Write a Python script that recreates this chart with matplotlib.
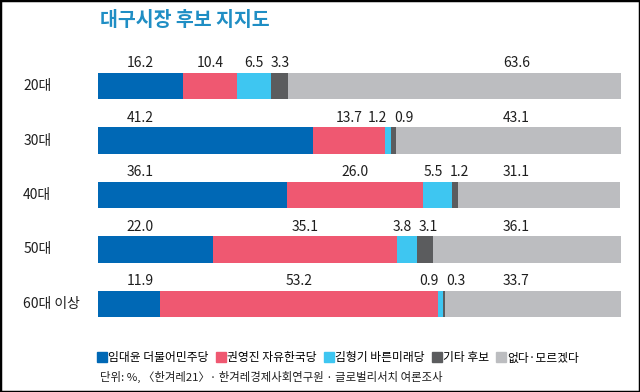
import matplotlib
matplotlib.use("Agg")
import matplotlib.pyplot as plt
from matplotlib.lines import Line2D
from matplotlib.patches import Rectangle

plt.rcParams['font.family'] = ['Noto Sans CJK KR', 'DejaVu Sans']

# data (%)
ages = ['20대', '30대', '40대', '50대', '60대 이상']
minju = [16.2, 41.2, 36.1, 22.0, 11.9]      # 임대윤 더불어민주당
hanguk = [10.4, 13.7, 26.0, 35.1, 53.2]     # 권영진 자유한국당
barun = [6.5, 1.2, 5.5, 3.8, 0.9]           # 김형기 바른미래당
etc = [3.3, 0.9, 1.2, 3.1, 0.3]             # 기타 후보
dunno = [63.6, 43.1, 31.1, 36.1, 33.7]      # 없다·모르겠다

series = [minju, hanguk, barun, etc, dunno]
names = ['임대윤 더불어민주당', '권영진 자유한국당', '김형기 바른미래당', '기타 후보', '없다·모르겠다']
colors = ['#0068b5', '#ef5871', '#3ec6f1', '#5b5c5e', '#bcbdc0']

title = '대구시장 후보 지지도'
source = '단위: %, 〈한겨레21〉· 한겨레경제사회연구원 · 글로벌리서치 여론조사'

W, H = 640, 392
fig = plt.figure(figsize=(W / 100, H / 100), dpi=100)

# axes placed in pixel terms
row_px = 54.5
top_px = 86 - row_px / 2
ax = fig.add_axes([98 / W, 1 - (top_px + 5 * row_px) / H, 523 / W, 5 * row_px / H])
ax.set_xlim(0, 100)
ax.set_ylim(4.5, -0.5)
ax.axis('off')

bar_h = 0.48
for i in range(len(ages)):
    left = 0
    centers = []
    for s, c in zip(series, colors):
        v = s[i]
        ax.barh(i, v, left=left, height=bar_h, color=c, linewidth=0)
        centers.append(left + v / 2)
        left += v

    # label positions: first and last sit at fixed spots, middle ones centred and pushed apart
    xs = [8] + centers[1:4] + [80]
    mid = xs[1:4]
    for _ in range(3):
        for k in range(len(mid) - 1):
            if mid[k + 1] - mid[k] < 5:
                m = (mid[k] + mid[k + 1]) / 2
                mid[k], mid[k + 1] = m - 2.5, m + 2.5
    xs[1:4] = mid
    for x, s in zip(xs, series):
        ax.annotate(f'{s[i]:.1f}', (x, i - bar_h / 2), xytext=(0, 2), textcoords='offset points',
                    ha='center', va='bottom', fontsize=10, color='#1e1e1e')

    ax.text(-0.143, i, ages[i], transform=ax.get_yaxis_transform(), ha='left', va='center',
            fontsize=10, color='#1e1e1e')

fig.text(100 / W, 1 - 21 / H, title, ha='left', va='center', fontsize=14,
         fontweight='bold', color='#1f8ec4')

handles = [Line2D([], [], marker='s', linestyle='none', markersize=7, color=c) for c in colors]
fig.legend(handles, names, loc='center left', bbox_to_anchor=(96 / W, 1 - 358 / H), ncol=5,
           frameon=False, fontsize=8.5, handletextpad=0.05, columnspacing=0.5,
           handlelength=1.0, borderpad=0, borderaxespad=0)

fig.text(100 / W, 1 - 377 / H, source, ha='left', va='center', fontsize=8.2, color='#1e1e1e')

# thin black frame around the picture
fig.patches.append(Rectangle((0, 0), 1, 1, transform=fig.transFigure, fill=False,
                             edgecolor='black', linewidth=2.5))

fig.savefig('out.png', dpi=100)
